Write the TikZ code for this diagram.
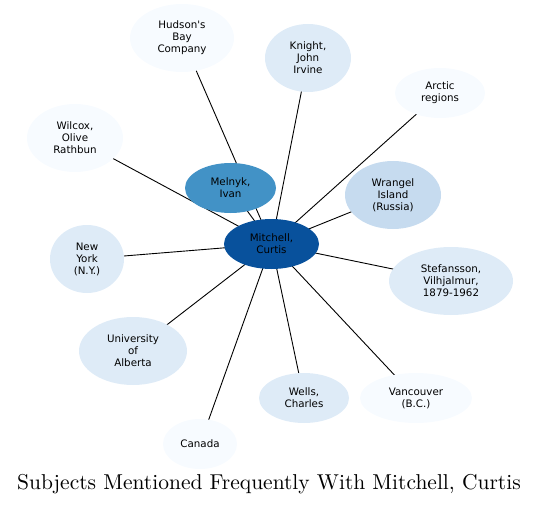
\documentclass[tikz,border=0pt]{standalone}
\usepackage{fontspec}
\newfontfamily\nodefont{DejaVu Sans}
\newfontfamily\titlefont{lmroman10-regular}[Extension=.otf]
\usetikzlibrary{shapes.geometric,backgrounds}
\definecolor{b0}{HTML}{F7FBFF}
\definecolor{b1}{HTML}{DEEBF7}
\definecolor{b2}{HTML}{C6DBEF}
\definecolor{b5}{HTML}{4292C6}
\definecolor{b7}{HTML}{08519C}
\tikzset{
  ent/.style={ellipse, draw=none, inner sep=0pt, align=center,
    font=\nodefont\fontsize{10.3}{12}\selectfont, text=black},
  link/.style={draw=black, line width=0.9pt}
}
\begin{document}
\begin{tikzpicture}[x=1pt,y=-1pt]
\useasboundingbox (0,0) rectangle (540,505);
\node[ent, fill=b7, minimum width=95, minimum height=50] (mit) at (271.5,244) {Mitchell,\\Curtis};
\node[ent, fill=b5, minimum width=91, minimum height=50] (mel) at (230.5,188) {Melnyk,\\Ivan};
\node[ent, fill=b0, minimum width=104, minimum height=68] (hud) at (182,38) {Hudson's\\Bay\\Company};
\node[ent, fill=b1, minimum width=86, minimum height=68] (kni) at (308,58) {Knight,\\John\\Irvine};
\node[ent, fill=b0, minimum width=90, minimum height=50] (arc) at (440,93) {Arctic\\regions};
\node[ent, fill=b0, minimum width=96, minimum height=68] (wil) at (75,138) {Wilcox,\\Olive\\Rathbun};
\node[ent, fill=b2, minimum width=96, minimum height=68] (wra) at (393,195) {Wrangel\\Island\\(Russia)};
\node[ent, fill=b1, minimum width=74, minimum height=68] (nyk) at (87,259) {New\\York\\(N.Y.)};
\node[ent, fill=b1, minimum width=124, minimum height=68] (ste) at (451,281) {Stefansson,\\Vilhjalmur,\\1879-1962};
\node[ent, fill=b1, minimum width=108, minimum height=68] (uni) at (133,351) {University\\of\\Alberta};
\node[ent, fill=b1, minimum width=90, minimum height=50] (wel) at (304,398) {Wells,\\Charles};
\node[ent, fill=b0, minimum width=112, minimum height=50] (van) at (416,398) {Vancouver\\(B.C.)};
\node[ent, fill=b0, minimum width=74, minimum height=50] (can) at (200,444) {Canada};
\node[font=\titlefont\fontsize{21.5}{24}\selectfont, anchor=base] (title) at (269,489) {Subjects Mentioned Frequently With Mitchell, Curtis};
\begin{pgfonlayer}{background}
\foreach \n in {mel,hud,kni,arc,wil,wra,nyk,ste,uni,wel,van,can}
  \draw[link] (mit.center) -- (\n.center);
\end{pgfonlayer}
\end{tikzpicture}
\end{document}
